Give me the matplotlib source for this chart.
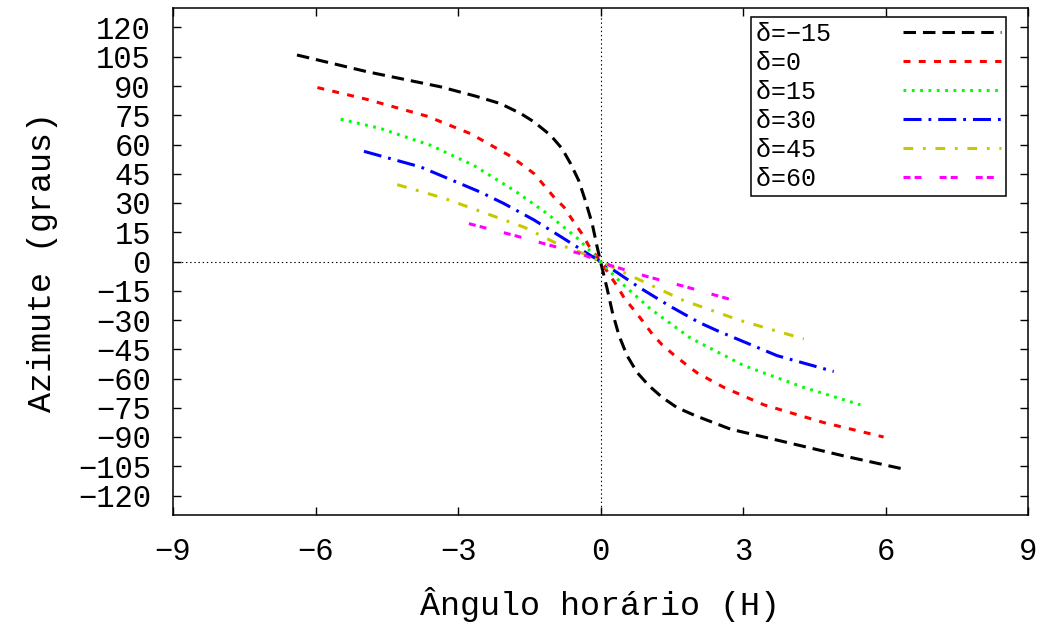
import matplotlib
matplotlib.use("Agg")
import matplotlib.pyplot as plt

plt.rcParams['font.family'] = ['Liberation Mono', 'DejaVu Sans Mono']
plt.rcParams['lines.scale_dashes'] = False

# declinações e curvas (H em horas, azimute em graus)
declinacoes = [-15, 0, 15, 30, 45, 60]

h_m15 = [-6.39, -4.91, -3.37, -2.63, -2.11, -1.68, -1.40, -1.05, -0.81, -0.63, -0.46, -0.32,
         -0.175, -0.07, 0.0, 0.14, 0.25, 0.39, 0.56, 0.77, 1.02, 1.30, 1.61, 2.00, 2.74,
         3.79, 5.12, 6.39]
az_m15 = [105.9, 97.3, 89.6, 84.8, 81.0, 75.9, 71.6, 64.7, 57.9, 50.2, 41.6, 31.3,
          19.4, 7.4, 0.0, -14.0, -26.0, -38.0, -48.3, -56.9, -63.7, -69.7, -74.9, -79.1, -86.0,
          -92.0, -99.7, -106.5]

h_0 = [-5.96, -4.91, -3.65, -2.74, -1.93, -1.68, -1.40, -1.19, -0.98, -0.77, -0.56, -0.39,
       -0.25, 0.0, 0.32, 0.49, 0.88, 1.09, 1.30, 1.54, 1.79, 2.04, 2.60, 3.44, 4.70, 5.96]
az_0 = [89.2, 83.1, 74.5, 65.6, 54.5, 50.2, 45.1, 39.1, 33.0, 27.9, 20.2, 14.2,
        8.2, 0.0, -11.5, -18.3, -30.3, -37.2, -42.8, -47.8, -52.6, -57.2, -64.6, -73.5, -82.6, -90.0]

h_15 = [-5.47, -4.63, -3.58, -2.67, -1.82, -1.12, -0.49, -0.14, 0.0,
        0.42, 1.05, 1.89, 3.02, 4.28, 5.47]
az_15 = [73.0, 68.2, 59.6, 49.3, 36.5, 24.5, 12.0, 3.5, 0.0,
         -10.6, -24.3, -39.2, -53.4, -64.6, -73.5]

h_30 = [-4.98, -3.79, -2.53, -2.04, -1.40, -0.84, -0.21, 0.0,
        0.39, 0.81, 1.44, 2.07, 2.46, 3.72, 4.91]
az_30 = [56.5, 48.5, 35.6, 29.8, 21.3, 12.8, 3.1, 0.0,
         -6.3, -13.2, -22.6, -31.2, -35.5, -48.3, -56.4]

h_45 = [-4.28, -3.30, -2.39, -1.61, -0.91, -0.35, 0.0,
        0.63, 1.75, 2.95, 4.28]
az_45 = [39.4, 32.5, 24.5, 17.6, 9.1, 4.0, 0.0,
         -7.2, -20.0, -30.3, -39.7]

h_60 = [-2.77, -1.82, -1.12, -0.42, 0.0,
        0.21, 0.98, 1.83, 2.77]
az_60 = [19.4, 13.4, 8.7, 4.0, 0.0,
         -2.0, -7.7, -13.2, -19.7]

xticks = [-9, -6, -3, 0, 3, 6, 9]
yticks = list(range(-120, 121, 15))

curvas = [(h_m15, az_m15), (h_0, az_0), (h_15, az_15), (h_30, az_30), (h_45, az_45), (h_60, az_60)]
cores = ['#000000', '#ff0000', '#00ff00', '#0000ff', '#c8c800', '#ff00ff']
tracos = [(0, (9, 5)), (0, (5, 6)), (0, (2, 4)), (0, (13, 5, 2, 5)),
          (0, (7, 7, 2, 7)), (0, (5, 3, 5, 13))]

fig = plt.figure(figsize=(10.5, 6.28), dpi=100)
ax = fig.add_axes([173/1050, 1-515/628, 855/1050, 507/628])

ax.axhline(0, color='black', lw=0.8, ls=(0, (1, 2)), zorder=1)
ax.axvline(0, color='black', lw=0.8, ls=(0, (1, 2)), zorder=1)

for (h, az), d, c, t in zip(curvas, declinacoes, cores, tracos):
    rotulo = ('δ=' + str(d).replace('-', '−')).ljust(6)
    ax.plot(h, az, color=c, ls=t, lw=2.2, label=rotulo)

ax.set_xlim(-9, 9)
ax.set_ylim(-130, 130)
ax.set_xticks(xticks)
ax.set_yticks(yticks)
ax.tick_params(direction='in', length=6, width=1, top=True, right=True, labelsize=22)
ax.tick_params(axis='x', pad=16)
ax.tick_params(axis='y', pad=16)
for s in ax.spines.values():
    s.set_linewidth(1.1)

ax.set_xlabel('Ângulo horário (H)', fontsize=24, labelpad=14)
ax.set_ylabel('Azimute (graus)', fontsize=24, labelpad=14)

leg = ax.legend(loc='upper right', bbox_to_anchor=(0.974, 0.982), borderaxespad=0,
                markerfirst=False, fontsize=18, handlelength=3.9, handletextpad=2.3,
                borderpad=0.2, labelspacing=0.2, fancybox=False, framealpha=1,
                edgecolor='black')
leg.get_frame().set_linewidth(1.1)

fig.savefig('out.png', dpi=100)
